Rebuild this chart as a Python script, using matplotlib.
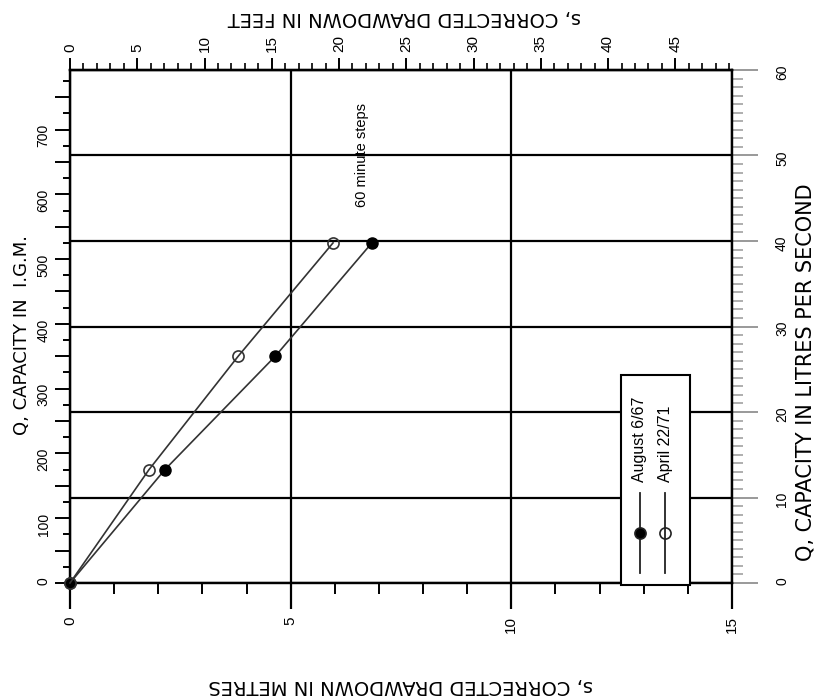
import matplotlib
matplotlib.use("Agg")
import matplotlib.pyplot as plt
from matplotlib.ticker import MultipleLocator, FuncFormatter
from matplotlib.patches import Rectangle
from matplotlib.lines import Line2D

plt.rcParams['font.family'] = ['Liberation Sans', 'DejaVu Sans']

# datos (giro de 90 grados)
q_igm = [0, 175, 350, 525]
s_agosto = [0, 2.15, 4.65, 6.84]
s_abril = [0, 1.79, 3.81, 5.96]
etiquetas = ["August 6/67", "April 22/71"]
nota = "60 minute steps"

IGM_POR_LPS = 13.198
M_POR_PIE = 0.3048

fig = plt.figure(figsize=(8.17, 6.98), dpi=100)
W, H = 817, 698
x0, x1, y0, y1 = 70, 732, 583, 70
ax = fig.add_axes([x0 / W, 1 - y0 / H, (x1 - x0) / W, (y0 - y1) / H])

ax.set_xlim(0, 15)
ax.set_ylim(0, 60 * IGM_POR_LPS)

for lado in ax.spines.values():
    lado.set_linewidth(1.6)

# eje inferior: metros
ax.xaxis.set_major_locator(MultipleLocator(5))
ax.xaxis.set_minor_locator(MultipleLocator(1))
ax.tick_params(axis='x', which='major', direction='out', length=19, width=1.6,
               labelsize=11, labelrotation=90, pad=5)
ax.tick_params(axis='x', which='minor', direction='out', length=8, width=1.4)
ax.grid(axis='x', which='major', color='k', linewidth=1.6)

# eje izquierdo: IGM
ax.yaxis.set_major_locator(MultipleLocator(50))
ax.yaxis.set_minor_locator(MultipleLocator(25))
ax.yaxis.set_major_formatter(FuncFormatter(lambda v, p: f"{v:.0f}" if round(v) % 100 == 0 else ""))
ax.tick_params(axis='y', which='major', direction='out', length=11, width=1.4,
               labelsize=10, labelrotation=90, pad=3)
ax.tick_params(axis='y', which='minor', direction='out', length=5, width=1.4)

# eje superior: pies
top = ax.secondary_xaxis('top', functions=(lambda m: m / M_POR_PIE, lambda f: f * M_POR_PIE))
top.set_xticks(range(0, 50, 5))
top.xaxis.set_minor_locator(MultipleLocator(1))
top.tick_params(axis='x', which='major', direction='out', length=9, width=1.4,
                labelsize=11, labelrotation=90, pad=4)
top.tick_params(axis='x', which='minor', direction='out', length=5, width=1.2)
top.spines['top'].set_linewidth(1.6)

# eje derecho: litros por segundo
rax = ax.twinx()
rax.set_ylim(0, 60)
rax.yaxis.set_major_locator(MultipleLocator(10))
rax.yaxis.set_minor_locator(MultipleLocator(1))
rax.tick_params(axis='y', which='major', direction='out', length=19, width=1.4,
                color='#999999', labelsize=10, labelrotation=90, pad=12)
rax.tick_params(axis='y', which='minor', direction='out', length=8, width=1.1,
                color='#999999')
rax.grid(axis='y', which='major', color='k', linewidth=1.6)
for t in rax.yaxis.get_major_ticks():
    if t.get_loc() in (10, 20):
        t.tick2line.set_color('k')
for lado in rax.spines.values():
    lado.set_linewidth(1.6)

# series
ax.plot(s_agosto, q_igm, color='#333333', lw=1.2, marker='o', ms=8,
        mfc='k', mec='k', clip_on=False, zorder=5)
ax.plot(s_abril, q_igm, color='#333333', lw=1.2, marker='o', ms=8,
        mfc='none', mec='#333333', mew=1.2, clip_on=False, zorder=5)
ax.set_zorder(rax.get_zorder() + 1)
ax.patch.set_visible(False)

ax.text(6.62, 44.0 * IGM_POR_LPS, nota, rotation=90, rotation_mode='anchor',
        ha='left', va='center', fontsize=10.5)

# leyenda girada, dibujada a mano
ax.add_patch(Rectangle((0.832, -0.004), 0.105, 0.409, transform=ax.transAxes,
                       fc='white', lw=1.5, ec='k', zorder=6, clip_on=False))
for xl, fill, txt in [(0.861, 'k', etiquetas[0]), (0.899, 'none', etiquetas[1])]:
    ax.add_line(Line2D([xl, xl], [0.0195, 0.175], transform=ax.transAxes,
                       color='#222222', lw=1.3, zorder=7))
    ax.add_line(Line2D([xl], [0.0975], transform=ax.transAxes, marker='o', ms=8,
                       mfc=fill, mec='#222222', mew=1.2, zorder=7))
    ax.text(xl, 0.197, txt, transform=ax.transAxes, rotation=90,
            rotation_mode='anchor', ha='left', va='center', fontsize=11.5, zorder=7)

# titulos de los ejes
fig.text(404 / W, 1 - 18 / H, "s, CORRECTED DRAWDOWN IN FEET", rotation=180,
         ha='center', va='center', fontsize=14, family='DejaVu Sans')
fig.text(401 / W, 1 - 685 / H, "s, CORRECTED DRAWDOWN IN METRES", rotation=180,
         ha='center', va='center', fontsize=14, family='DejaVu Sans')
fig.text(22 / W, 1 - 335 / H, "Q, CAPACITY IN  I.G.M.", rotation=90,
         ha='center', va='center', fontsize=13, family='DejaVu Sans')
fig.text(806 / W, 1 - 372 / H, "Q, CAPACITY IN LITRES PER SECOND", rotation=90,
         ha='center', va='center', fontsize=15, family='DejaVu Sans')

fig.savefig("out.png", dpi=100)
